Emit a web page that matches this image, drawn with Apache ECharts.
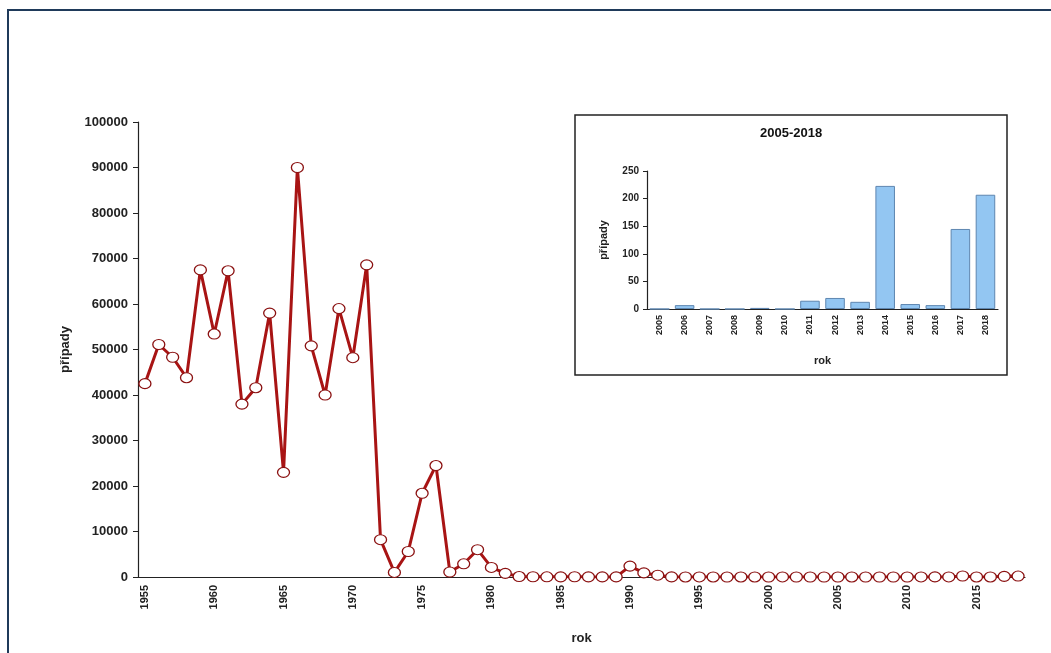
<!DOCTYPE html>
<html>
<head>
<meta charset="utf-8">
<script src="https://cdn.jsdelivr.net/npm/echarts@6/dist/echarts.min.js"></script>
<style>html,body{margin:0;padding:0;background:#fff;}#c{width:1051px;height:653px;}</style>
</head>
<body>
<div id="c"></div>
<script>
const years = [];
for (let y = 1955; y <= 2018; y++) years.push(String(y));
const cases = [
  42500, 51100, 48300, 43800, 67500, 53400, 67300, 38000, 41600, 58000, // 1955-1964
  23000, 90000, 50800, 40000, 59000, 48200, 68600, 8200, 1000, 5600,    // 1965-1974
  18400, 24500, 1100, 2900, 6000, 2100, 800, 100, 50, 40,              // 1975-1984
  30, 60, 30, 20, 20, 2400, 900, 400, 20, 10,                          // 1985-1994
  15, 8, 5, 10, 6, 4, 12, 3, 5, 2,                                     // 1995-2004
  0, 7, 0, 0, 2, 0, 15, 20, 13, 223,                                   // 2005-2014
  9, 7, 145, 207                                                       // 2015-2018
];
const mainTicks = [0, 10000, 20000, 30000, 40000, 50000, 60000, 70000, 80000, 90000, 100000];

const insetYears = ['2005','2006','2007','2008','2009','2010','2011','2012','2013','2014','2015','2016','2017','2018'];
const insetCases = [0, 7, 0, 0, 2, 0, 15, 20, 13, 223, 9, 7, 145, 207];
const insetTicks = [0, 50, 100, 150, 200, 250];

const F = 'Liberation Sans, Arial, sans-serif';
const chart = echarts.init(document.getElementById('c'));
chart.setOption({
  backgroundColor: '#fff',
  animation: false,
  graphic: [
    { type: 'rect', z: -10, shape: { x: 8, y: 10, width: 1200, height: 800 },
      style: { fill: '#fff', stroke: '#1F3A5A', lineWidth: 2 } },
    { type: 'rect', z: -5, shape: { x: 575, y: 115, width: 432, height: 260 },
      style: { fill: '#fff', stroke: '#222', lineWidth: 1.5 } },
    { type: 'text', z: 5, left: 760, top: 127,
      style: { text: '2005-2018', font: 'bold 13px ' + F, fill: '#111' } }
  ],
  grid: [
    { left: 138, right: 26, top: 122, bottom: 76 },
    { left: 647, right: 53, top: 171, bottom: 344 }
  ],
  xAxis: [
    { type: 'category', gridIndex: 0, data: years, boundaryGap: true,
      name: 'rok', nameLocation: 'middle', nameGap: 55,
      nameTextStyle: { fontFamily: F, fontWeight: 'bold', fontSize: 13, color: '#222' },
      axisLine: { lineStyle: { color: '#222', width: 1.2 } },
      axisTick: { interval: 0, length: 5, lineStyle: { color: '#222' } },
      axisLabel: { interval: 4, rotate: 90, fontFamily: F, fontWeight: 'bold', fontSize: 11, color: '#222', margin: 8 },
      splitLine: { show: false } },
    { type: 'category', gridIndex: 1, data: insetYears, boundaryGap: true,
      name: 'rok', nameLocation: 'middle', nameGap: 46,
      nameTextStyle: { fontFamily: F, fontWeight: 'bold', fontSize: 11, color: '#222' },
      axisLine: { lineStyle: { color: '#222', width: 1.2 } },
      axisTick: { interval: 0, length: 4, lineStyle: { color: '#222' } },
      axisLabel: { interval: 0, rotate: 90, fontFamily: F, fontWeight: 'bold', fontSize: 9, color: '#222', margin: 6 },
      splitLine: { show: false } }
  ],
  yAxis: [
    { type: 'value', gridIndex: 0, min: 0, max: 100000, interval: 10000,
      name: 'případy', nameLocation: 'middle', nameGap: 66,
      nameTextStyle: { fontFamily: F, fontWeight: 'bold', fontSize: 13, color: '#222' },
      axisLine: { show: true, lineStyle: { color: '#222', width: 1.2 } },
      axisTick: { show: true, length: 5, lineStyle: { color: '#222' } },
      axisLabel: { fontFamily: F, fontWeight: 'bold', fontSize: 13, color: '#222', margin: 10,
        formatter: v => mainTicks.includes(v) ? String(v) : '' },
      splitLine: { show: false } },
    { type: 'value', gridIndex: 1, min: 0, max: 250, interval: 50,
      name: 'případy', nameLocation: 'middle', nameGap: 38,
      nameTextStyle: { fontFamily: F, fontWeight: 'bold', fontSize: 11, color: '#222' },
      axisLine: { show: true, lineStyle: { color: '#222', width: 1.2 } },
      axisTick: { show: true, length: 4, lineStyle: { color: '#222' } },
      axisLabel: { fontFamily: F, fontWeight: 'bold', fontSize: 10, color: '#222', margin: 8,
        formatter: v => insetTicks.includes(v) ? String(v) : '' },
      splitLine: { show: false } }
  ],
  series: [
    { type: 'line', xAxisIndex: 0, yAxisIndex: 0, data: cases, z: 2,
      symbol: 'circle', symbolSize: [12, 10], showAllSymbol: true,
      lineStyle: { color: '#A81414', width: 3 },
      itemStyle: { color: '#fff', borderColor: '#8A1010', borderWidth: 1.2 } },
    { type: 'bar', xAxisIndex: 1, yAxisIndex: 1, data: insetCases, z: 4,
      barWidth: '78%',
      itemStyle: { color: '#93C6F2', borderColor: '#5E86B0', borderWidth: 1 } }
  ]
});
</script>
</body>
</html>
